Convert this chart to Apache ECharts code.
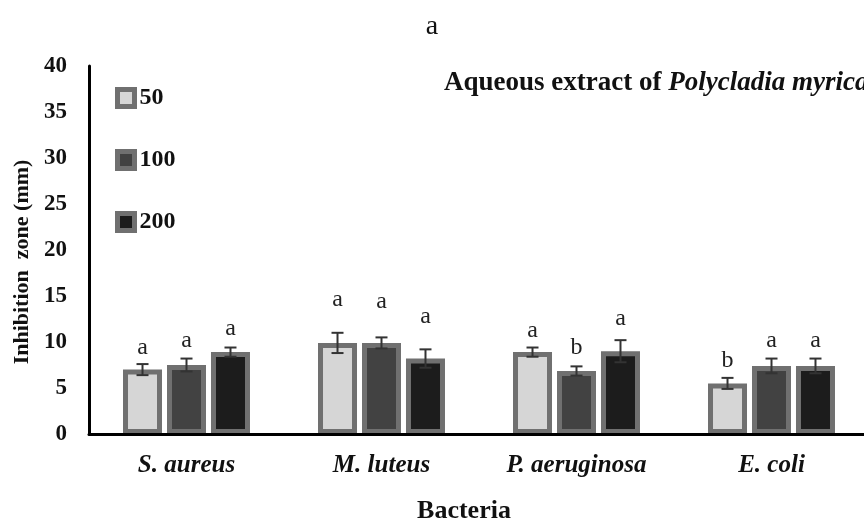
<!DOCTYPE html>
<html><head><meta charset="utf-8">
<script src="https://cdn.jsdelivr.net/npm/echarts@6/dist/echarts.min.js"></script>
<style>html,body{margin:0;padding:0;background:#fff}#c{width:864px;height:521px}</style>
</head><body><div id="c"></div>
<script>
// ---- data ----
const categories = ['S. aureus', 'M. luteus', 'P. aeruginosa', 'E. coli'];
const seriesNames = ['50', '100', '200'];
const values50  = [7.0, 9.9, 8.9, 5.5];
const values100 = [7.5, 9.9, 6.85, 7.4];
const values200 = [8.9, 8.2, 9.0, 7.4];
const err50  = [0.6, 1.1, 0.5, 0.6];
const err100 = [0.7, 0.6, 0.5, 0.8];
const err200 = [0.5, 1.0, 1.2, 0.8];
const letters50  = ['a', 'a', 'a', 'b'];
const letters100 = ['a', 'a', 'b', 'a'];
const letters200 = ['a', 'a', 'a', 'a'];
// baseline height (data units) of the significance letters
const letterY50  = [8.6, 13.8, 10.5, 7.2];
const letterY100 = [9.35, 13.6, 8.6, 9.35];
const letterY200 = [10.65, 12.0, 11.75, 9.35];
const yTicks = [0, 5, 10, 15, 20, 25, 30, 35, 40];

// ---- style ----
const FONT = '"Liberation Serif","Times New Roman",serif';
const BAR_W = 39, GAP = 0.128;
const fills = ['#d6d6d6', '#424242', '#1c1c1c'];
const borderC = '#707070';
const vals = [values50, values100, values200];
const errs = [err50, err100, err200];
const lets = [letters50, letters100, letters200];
const lys = [letterY50, letterY100, letterY200];

const chart = echarts.init(document.getElementById('c'));

const barSeries = seriesNames.map((n, k) => ({
  type: 'bar', name: n, data: vals[k], barWidth: BAR_W, barGap: (GAP * 100) + '%',
  itemStyle: { color: fills[k], borderColor: borderC, borderWidth: 5 },
  z: 2
}));

const errSeries = seriesNames.map((n, k) => ({
  type: 'custom', name: 'err' + n, z: 5,
  data: categories.map((c, i) => [i, vals[k][i], errs[k][i], lys[k][i]]),
  renderItem(params, api) {
    const ci = api.value(0), v = api.value(1), e = api.value(2), ly = api.value(3);
    const off = (k - 1) * BAR_W * (1 + GAP);
    const top = api.coord([ci, v + e]);
    const bot = api.coord([ci, v - e]);
    const x = top[0] + off;
    const lp = api.coord([ci, ly]);
    const ls = { stroke: '#333', lineWidth: 2 };
    return { type: 'group', children: [
      { type: 'line', shape: { x1: x, y1: top[1], x2: x, y2: bot[1] }, style: ls },
      { type: 'line', shape: { x1: x - 6, y1: top[1], x2: x + 6, y2: top[1] }, style: ls },
      { type: 'line', shape: { x1: x - 6, y1: bot[1], x2: x + 6, y2: bot[1] }, style: ls },
      { type: 'text', style: { text: lets[k][params.dataIndex], x: x, y: lp[1] + 5,
          align: 'center', verticalAlign: 'bottom', fill: '#222',
          font: 'normal 24px ' + FONT } }
    ]};
  }
}));

chart.setOption({
  animation: false,
  backgroundColor: '#fff',
  title: [
    { text: 'a', left: 'center', top: 8,
      textStyle: { fontFamily: FONT, fontWeight: 'normal', fontSize: 28, color: '#111' } },
    { text: '{b|Aqueous extract of }{i|Polycladia myrica}', left: 439, top: 65,
      textStyle: { rich: {
        b: { fontFamily: FONT, fontWeight: 'bold', fontSize: 27, color: '#111' },
        i: { fontFamily: FONT, fontWeight: 'bold', fontStyle: 'italic', fontSize: 27, color: '#111' } } } }
  ],
  legend: {
    data: seriesNames, orient: 'vertical', left: 110, top: 81,
    icon: 'rect', itemWidth: 17, itemHeight: 17, itemGap: 38, itemTextGap: 4,
    itemStyle: { borderWidth: 5, borderColor: borderC },
    textStyle: { fontFamily: FONT, fontWeight: 'bold', fontSize: 24, color: '#111', lineHeight: 24 }
  },
  grid: { left: 89, top: 66, width: 780, height: 368, containLabel: false, outerBoundsMode: 'none' },
  xAxis: {
    type: 'category', data: categories, z: 10,
    axisLine: { lineStyle: { color: '#000', width: 3 } },
    axisTick: { show: false },
    axisLabel: { margin: 19, fontFamily: FONT, fontWeight: 'bold', fontStyle: 'italic', fontSize: 25, color: '#111' },
    name: 'Bacteria', nameLocation: 'middle', nameGap: 64,
    nameTextStyle: { fontFamily: FONT, fontWeight: 'bold', fontSize: 26, color: '#111', padding: [0, 30, 0, 0] }
  },
  yAxis: {
    type: 'value', min: yTicks[0], max: yTicks[yTicks.length - 1], interval: 5, z: 10,
    axisLine: { show: true, lineStyle: { color: '#000', width: 3 } },
    axisTick: { show: false }, splitLine: { show: false },
    axisLabel: { margin: 22, fontFamily: FONT, fontWeight: 'bold', fontSize: 23, color: '#111' },
    name: 'Inhibition  zone (mm)', nameLocation: 'middle', nameGap: 55,
    nameTextStyle: { fontFamily: FONT, fontWeight: 'bold', fontSize: 22, color: '#111', padding: [0, 24, 0, 0] }
  },
  series: barSeries.concat(errSeries)
});
</script></body></html>
